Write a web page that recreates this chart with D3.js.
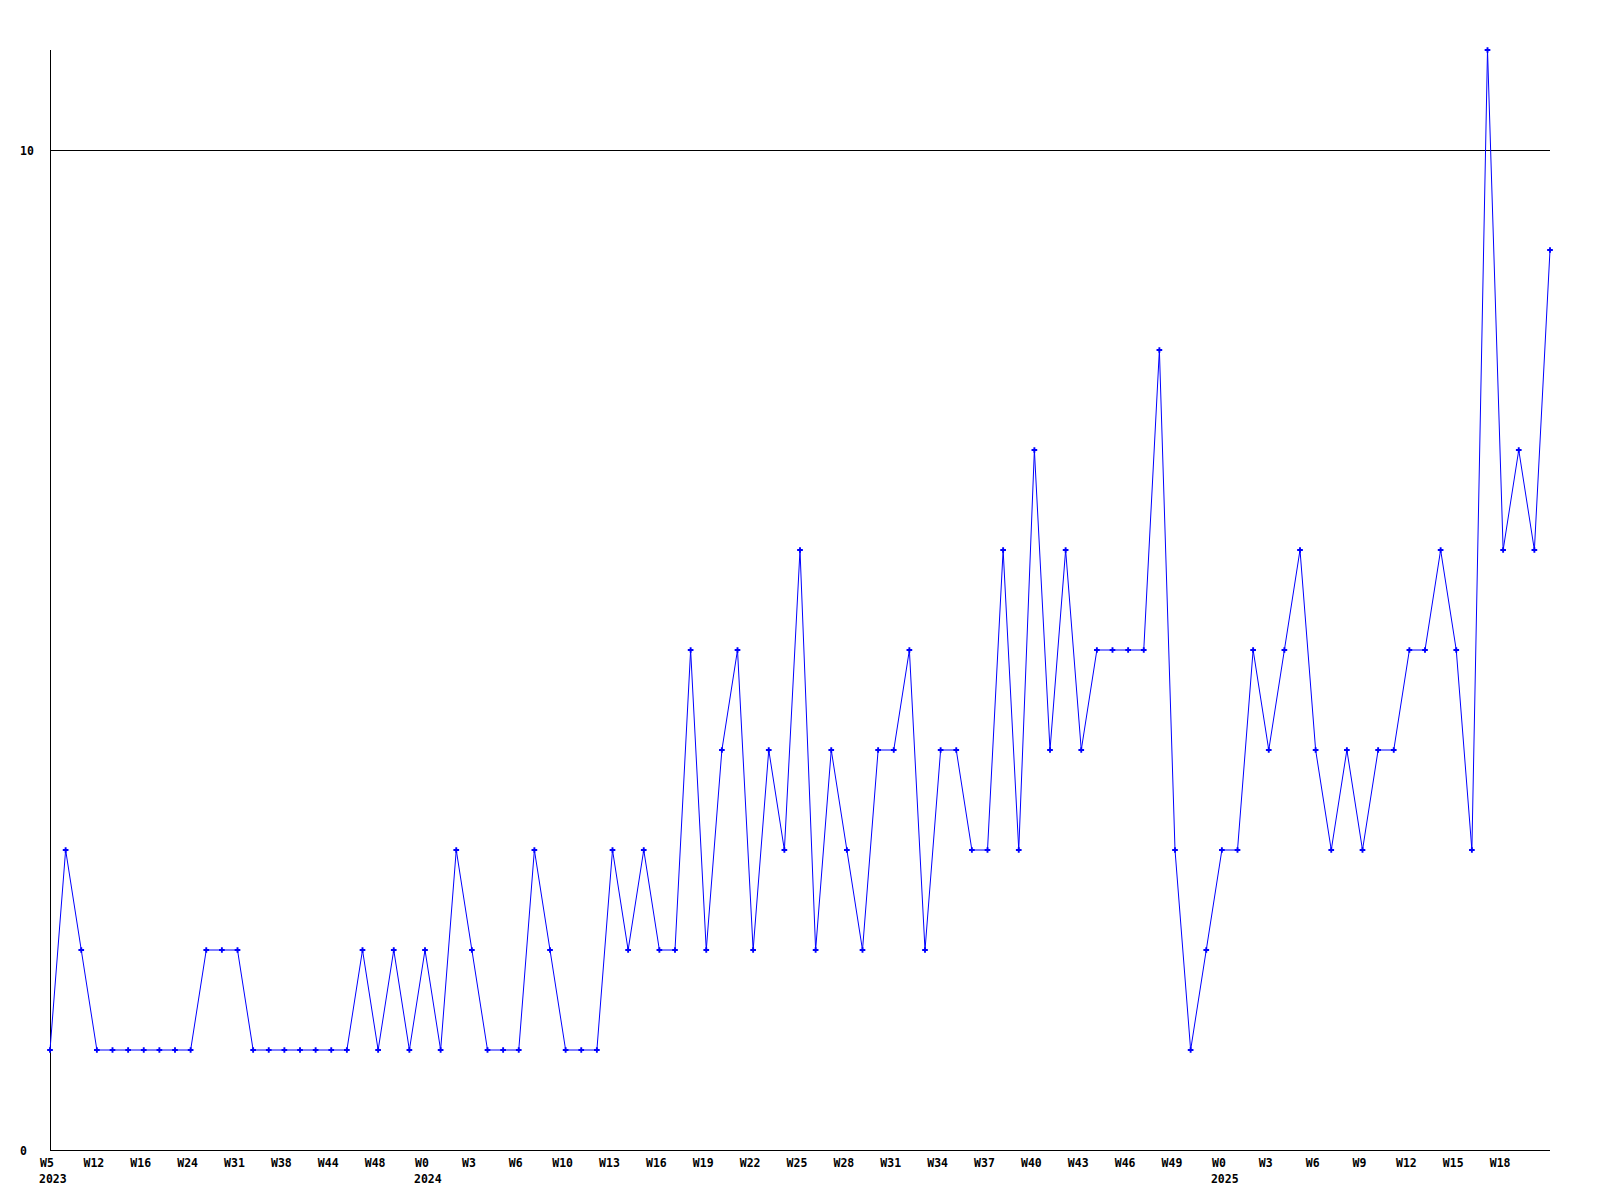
<!DOCTYPE html>
<html>
<head>
<meta charset="utf-8">
<script src="https://cdn.jsdelivr.net/npm/d3@7"></script>
<style>
  html, body { margin: 0; padding: 0; background: #ffffff; }
  svg { display: block; }
  text { font-family: "DejaVu Sans Mono", "Liberation Mono", monospace; font-weight: bold; font-size: 11.5px; fill: #000; }
</style>
</head>
<body>
<svg id="chart" width="1600" height="1200"></svg>
<script>
// ---- data ----
const values = [
  1, 3, 2, 1, 1, 1, 1, 1, 1, 1,
  2, 2, 2, 1, 1, 1, 1, 1, 1, 1,
  2, 1, 2, 1, 2, 1, 3, 2, 1, 1,
  1, 3, 2, 1, 1, 1, 3, 2, 3, 2,
  2, 5, 2, 4, 5, 2, 4, 3, 6, 2,
  4, 3, 2, 4, 4, 5, 2, 4, 4, 3,
  3, 6, 3, 7, 4, 6, 4, 5, 5, 5,
  5, 8, 3, 1, 2, 3, 3, 5, 4, 5,
  6, 4, 3, 4, 3, 4, 4, 5, 5, 6,
  5, 3, 11, 6, 7, 6, 9
];
const weekLabels = ["W5", "W12", "W16", "W24", "W31", "W38", "W44", "W48",
  "W0", "W3", "W6", "W10", "W13", "W16", "W19", "W22", "W25", "W28", "W31",
  "W34", "W37", "W40", "W43", "W46", "W49",
  "W0", "W3", "W6", "W9", "W12", "W15", "W18"];
const labelStep = 3;
const yearLabels = [
  { index: 0, text: "2023" },
  { index: 24, text: "2024" },
  { index: 75, text: "2025" }
];
const yTicks = [0, 10];
const yMax = 11;

// ---- layout ----
const mLeft = 50, mRight = 1550, mTop = 50, mBottom = 1150;
const svg = d3.select("#chart");

const x = d3.scaleLinear().domain([0, values.length - 1]).range([mLeft, mRight]);
const y = d3.scaleLinear().domain([0, yMax]).range([mBottom, mTop]);

// y axis with gridline at ticks
const yAxis = d3.axisLeft(y).tickValues(yTicks).tickSize(-(mRight - mLeft)).tickFormat(d3.format("d"));
const gy = svg.append("g").attr("transform", `translate(${mLeft},0)`).call(yAxis);
gy.select(".domain").remove();
gy.selectAll(".tick line").attr("stroke", "#000").attr("stroke-width", 1).attr("shape-rendering", "crispEdges");
gy.selectAll(".tick text")
  .attr("x", -30).attr("dy", "0.35em")
  .attr("text-anchor", "start")
  .style("font-family", "'DejaVu Sans Mono', monospace").style("font-weight", "bold").style("font-size", "11.5px");

// axis lines
svg.append("line").attr("x1", mLeft).attr("x2", mLeft).attr("y1", mTop).attr("y2", mBottom)
  .attr("stroke", "#000").attr("shape-rendering", "crispEdges");
svg.append("line").attr("x1", mLeft).attr("x2", mRight).attr("y1", mBottom).attr("y2", mBottom)
  .attr("stroke", "#000").attr("shape-rendering", "crispEdges");

// x axis labels
const tickIdx = weekLabels.map((_, i) => i * labelStep);
const xAxis = d3.axisBottom(x).tickValues(tickIdx).tickSize(0)
  .tickFormat((d, i) => weekLabels[i]);
const gx = svg.append("g").attr("transform", `translate(0,${mBottom})`).call(xAxis);
gx.select(".domain").remove();
gx.selectAll(".tick text")
  .attr("x", -3.5).attr("y", 17).attr("dy", null)
  .style("font-family", "'DejaVu Sans Mono', monospace").style("font-weight", "bold").style("font-size", "11.5px");

svg.append("g").selectAll("text").data(yearLabels).join("text")
  .attr("x", d => x(d.index) - 11)
  .attr("y", mBottom + 33)
  .attr("text-anchor", "start")
  .text(d => d.text);

// line
const line = d3.line().x((d, i) => x(i)).y(d => y(d));
svg.append("path").datum(values)
  .attr("d", line)
  .attr("fill", "none")
  .attr("stroke", "#0000ff")
  .attr("stroke-width", 1);

// markers
svg.append("g").selectAll("path").data(values).join("path")
  .attr("transform", (d, i) => `translate(${x(i)},${y(d)})`)
  .attr("d", d3.symbol().type(d3.symbolCross).size(18))
  .attr("fill", "#0000ff");
</script>
</body>
</html>
